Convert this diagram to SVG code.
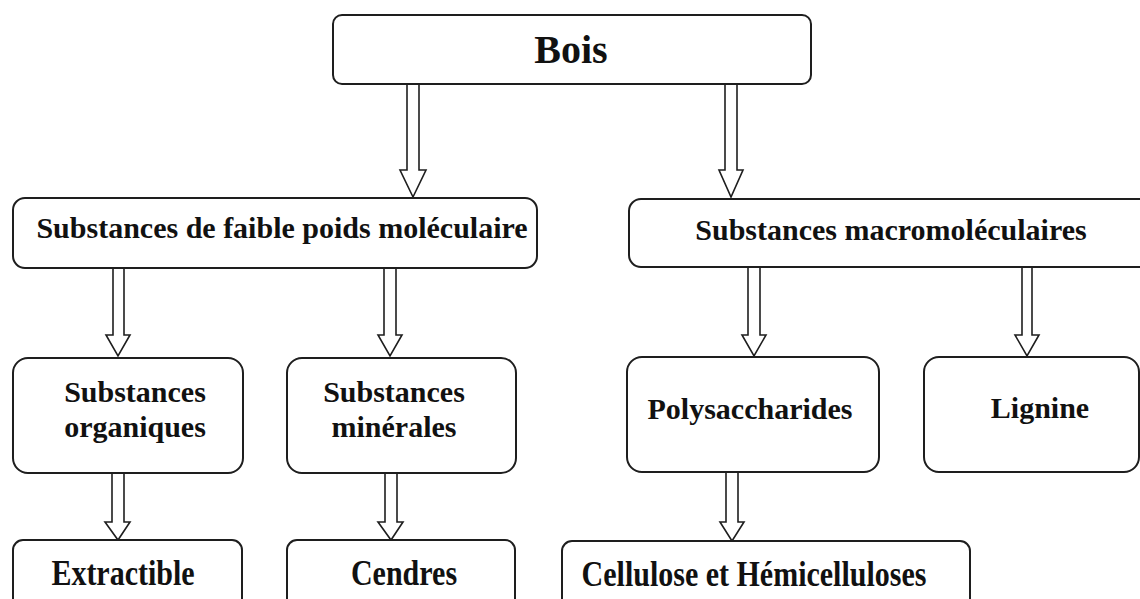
<svg xmlns="http://www.w3.org/2000/svg" width="1140" height="599" viewBox="0 0 1140 599">
  <style>
    .box { fill: #ffffff; stroke: #1e1e1e; stroke-width: 2; }
    .arrow { fill: #ffffff; stroke: #1e1e1e; stroke-width: 1.6; stroke-linejoin: miter; }
    .lbl { font-family: "Liberation Serif", "Times New Roman", serif; font-weight: bold; font-size: 30px; fill: #111111; text-anchor: middle; }
    .big { font-size: 40px; }
  </style>
  <rect width="1140" height="599" fill="#ffffff"/>

  <g id="connectors">
    <!-- Bois -> faible -->
    <polygon class="arrow" points="407,84 407,170 400,170 413,197 426,170 419,170 419,84"/>
    <!-- Bois -> macro -->
    <polygon class="arrow" points="725,84 725,170 719,170 731,197 743,170 737,170 737,84"/>
    <!-- faible -> organiques -->
    <polygon class="arrow" points="113,268 113,335 106,335 118,356 130,335 124,335 124,268"/>
    <!-- faible -> minerales -->
    <polygon class="arrow" points="384,268 384,335 378,335 390,356 402,335 396,335 396,268"/>
    <!-- macro -> polysaccharides -->
    <polygon class="arrow" points="748,267 748,335 742,335 754,356 766,335 760,335 760,267"/>
    <!-- macro -> lignine -->
    <polygon class="arrow" points="1022,267 1022,335 1015,335 1027,356 1039,335 1032,335 1032,267"/>
    <!-- organiques -> extractible -->
    <polygon class="arrow" points="112,473 112,522 105,522 118,540 130,522 124,522 124,473"/>
    <!-- minerales -> cendres -->
    <polygon class="arrow" points="385,473 385,522 378,522 391,540 403,522 397,522 397,473"/>
    <!-- polysaccharides -> cellulose -->
    <polygon class="arrow" points="726,472 726,522 720,522 732,541 744,522 738,522 738,472"/>
  </g>

  <g id="node-bois">
    <rect class="box" x="333" y="15" width="478" height="69" rx="9" ry="9"/>
    <text class="lbl big" x="571" y="63">Bois</text>
  </g>

  <g id="node-faible">
    <rect class="box" x="13" y="198" width="524" height="70" rx="12" ry="12"/>
    <text class="lbl" x="282" y="238">Substances de faible poids moléculaire</text>
  </g>

  <g id="node-macro">
    <rect class="box" x="629" y="199" width="530" height="68" rx="12" ry="12"/>
    <text class="lbl" x="891" y="240">Substances macromoléculaires</text>
  </g>

  <g id="node-organiques">
    <rect class="box" x="13" y="358" width="230" height="115" rx="15" ry="15"/>
    <text class="lbl" x="135" y="402">Substances</text>
    <text class="lbl" x="135" y="437">organiques</text>
  </g>

  <g id="node-minerales">
    <rect class="box" x="287" y="358" width="229" height="115" rx="15" ry="15"/>
    <text class="lbl" x="394" y="402">Substances</text>
    <text class="lbl" x="394" y="437">minérales</text>
  </g>

  <g id="node-polysaccharides">
    <rect class="box" x="627" y="357" width="252" height="115" rx="15" ry="15"/>
    <text class="lbl" x="750" y="419">Polysaccharides</text>
  </g>

  <g id="node-lignine">
    <rect class="box" x="924" y="357" width="215" height="115" rx="15" ry="15"/>
    <text class="lbl" x="1040" y="418">Lignine</text>
  </g>

  <g id="node-extractible">
    <rect class="box" x="13" y="540" width="229" height="80" rx="10" ry="10"/>
    <text class="lbl" transform="translate(123,585) scale(1,1.22)" x="0" y="0">Extractible</text>
  </g>

  <g id="node-cendres">
    <rect class="box" x="287" y="540" width="228" height="80" rx="10" ry="10"/>
    <text class="lbl" transform="translate(404,585) scale(1,1.22)" x="0" y="0">Cendres</text>
  </g>

  <g id="node-cellulose">
    <rect class="box" x="562" y="541" width="408" height="80" rx="10" ry="10"/>
    <text class="lbl" transform="translate(754,586) scale(1,1.22)" x="0" y="0">Cellulose et Hémicelluloses</text>
  </g>
</svg>
